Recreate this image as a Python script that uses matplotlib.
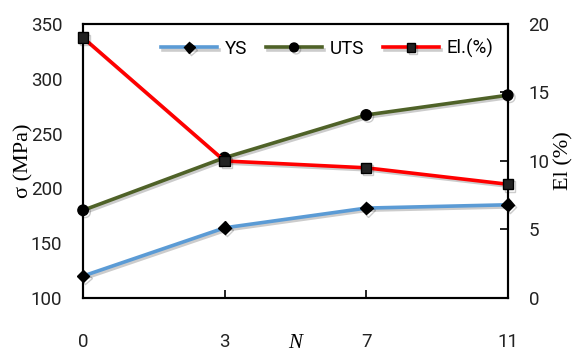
import matplotlib
matplotlib.use("Agg")
import matplotlib.pyplot as plt
import matplotlib.patheffects as pe

# data
n_labels = ["0", "3", "7", "11"]
ys = [120, 164, 182, 185]
uts = [180, 228, 267, 285]
el = [19.0, 10.0, 9.5, 8.3]

shadow = [pe.SimpleLineShadow(offset=(1.5, -1.5), alpha=0.2, shadow_color="black"), pe.Normal()]

fig = plt.figure(figsize=(5.77, 3.53), dpi=100)
ax = fig.add_axes([0.144, 0.156, 0.736, 0.776])
ax2 = ax.twinx()

x = list(range(len(n_labels)))
l1, = ax.plot(x, ys, color="#5B9BD5", lw=2.6, marker="D", ms=6.5, mfc="black", mec="black",
              label="YS", path_effects=shadow, clip_on=False, zorder=3)
l2, = ax.plot(x, uts, color="#4F6228", lw=2.6, marker="o", ms=7.5, mfc="black", mec="black",
              label="UTS", path_effects=shadow, clip_on=False, zorder=3)
l3, = ax2.plot(x, el, color="#FF0000", lw=2.6, marker="s", ms=7.5, mfc="#222222", mec="black",
               label="El.(%)", path_effects=shadow, clip_on=False, zorder=3)

ax.set_xlim(0, 3)
ax.set_ylim(100, 350)
ax2.set_ylim(0, 20)
ax.set_xticks(x)
ax.set_xticklabels(n_labels)
ax.set_yticks(range(100, 351, 50))
ax2.set_yticks(range(0, 21, 5))

tick_font = "Roboto"
for lab in ax.get_xticklabels() + ax.get_yticklabels() + ax2.get_yticklabels():
    lab.set_fontfamily(tick_font)
    lab.set_fontsize(13.5)
    lab.set_color("#222222")

ax.tick_params(axis="x", direction="in", length=6, width=1.2, pad=25)
ax.tick_params(axis="y", length=0, pad=15)
ax2.tick_params(axis="y", direction="in", length=6, width=1.2, pad=15)

for a in (ax, ax2):
    for s in a.spines.values():
        s.set_linewidth(1.5)

ax.set_ylabel("σ (MPa)", family="Liberation Serif", fontsize=16, labelpad=-2)
ax2.set_ylabel("El (%)", family="Liberation Serif", fontsize=16, labelpad=3)
ax.set_xlabel("N", family="Liberation Serif", style="italic", fontsize=15, labelpad=-12)

leg = ax.legend(handles=[l1, l2, l3], loc="center", bbox_to_anchor=(0.575, 0.91),
                ncol=3, frameon=False, prop={"family": tick_font, "size": 13.5},
                handlelength=3.0, handletextpad=0.4, columnspacing=1.0, markerscale=0.85)

fig.savefig("out.png", dpi=100)
